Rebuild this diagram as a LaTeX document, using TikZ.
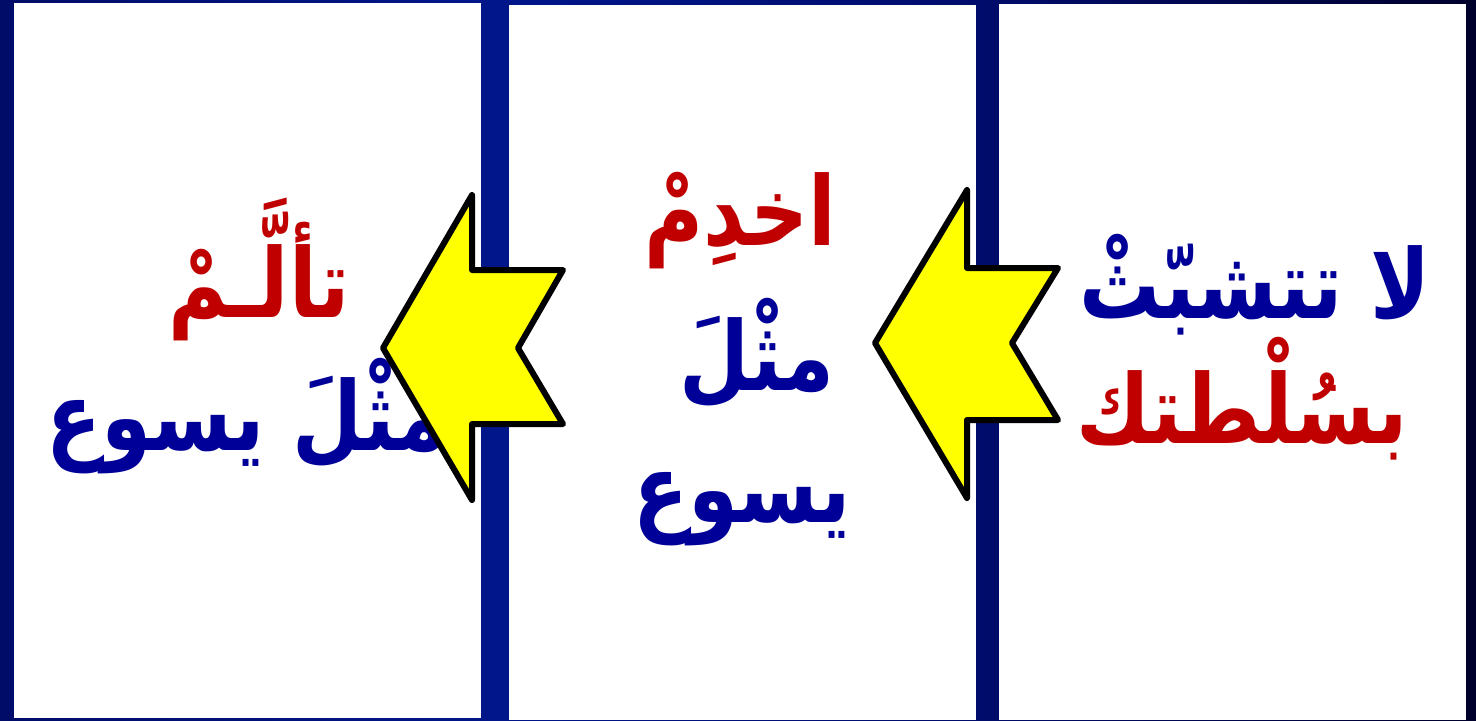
\documentclass[tikz,border=0pt]{standalone}
\usepackage{fontspec}
\usepackage{graphicx}
\TeXXeTstate=1
\newfontfamily\arabicfont[Script=Arabic]{DejaVu Sans}
\newcommand\artext[1]{\scalebox{0.84}[1]{\beginR #1\endR}}
\definecolor{bgA}{HTML}{000C68}
\definecolor{bgB}{HTML}{00168A}
\definecolor{bgC}{HTML}{000C6A}
\definecolor{bgD}{HTML}{00002C}
\definecolor{ablue}{HTML}{000099}
\definecolor{ared}{HTML}{C00000}
\definecolor{ayellow}{HTML}{FFFF00}
\pgfdeclarehorizontalshading{bgshade}{100bp}{color(0bp)=(bgA); color(25bp)=(bgA); color(41.8bp)=(bgB); color(58.5bp)=(bgC); color(75bp)=(bgD); color(100bp)=(bgD)}
\begin{document}
\begin{tikzpicture}[x=0.5pt,y=-0.5pt,
  panel/.style={fill=white,draw=none},
  arab/.style={font=\arabicfont\bfseries\fontsize{48}{54}\selectfont, inner sep=0pt, anchor=base},
  bluetxt/.style={arab,text=ablue},
  redtxt/.style={arab,text=ared},
  bigarrow/.style={fill=ayellow,draw=black,line width=3pt,line join=round}]
\useasboundingbox (0,0) rectangle (1476,720);
\shade[shading=bgshade] (0,0) rectangle (1476,720);
% panels
\fill[panel] (14,3) rectangle (481,718);
\fill[panel] (509,5) rectangle (976,720);
\fill[panel] (999,4) rectangle (1466,720);
% right panel text
\node[bluetxt] (r1) at (1255,318) {\artext{لا تتشبّثْ}};
\node[redtxt] (r2) at (1242,443) {\artext{بسُلْطتك}};
% middle panel text
\node[redtxt] (m1) at (740,245) {\artext{اخدِمْ}};
\node[bluetxt] (m2) at (757,390) {\artext{مثْلَ}};
\node[bluetxt] (m3) at (742,522) {\artext{يسوع}};
% left panel text
\node[redtxt] (l1) at (259,317) {\artext{تألَّـمْ}};
\node[bluetxt] (l2) at (247,450) {\artext{مثْلَ يسوع}};
% arrows
\draw[bigarrow] (875,343) -- (967,190) -- (967,268) -- (1058,268) -- (1012,343)
  -- (1058,420) -- (967,420) -- (967,498) -- cycle;
\draw[bigarrow] (383,348) -- (472,195) -- (472,270) -- (563,270) -- (518,348)
  -- (563,424) -- (472,424) -- (472,500) -- cycle;
\end{tikzpicture}
\end{document}
